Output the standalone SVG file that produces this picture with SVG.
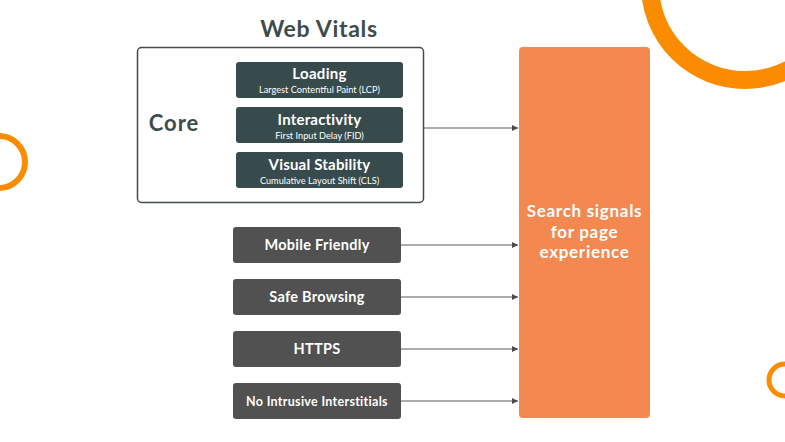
<svg xmlns="http://www.w3.org/2000/svg" width="785" height="442" viewBox="0 0 785 442">
<defs>
<style>
.t{font-family:Lato,"Open Sans","Liberation Sans",sans-serif;font-weight:700;fill:#fff;text-anchor:middle}
.s{font-family:Lato,"Open Sans","Liberation Sans",sans-serif;font-weight:400;fill:#fff;text-anchor:middle;font-size:9.2px}
.core{fill:#374b4c}
.sig{fill:#505150}
.ring{fill:none;stroke:#fb8c00}
.c{stroke:#5a5a5a;stroke-width:1.2;fill:none;marker-end:url(#ah)}
</style>
<marker id="ah" viewBox="0 0 8 8" refX="8" refY="4" markerWidth="6" markerHeight="6" markerUnits="userSpaceOnUse" orient="auto">
<path d="M0,0L8,4L0,8z" fill="#4a4a4a"/>
</marker>
</defs>
<rect width="785" height="442" fill="#fff"/>
<g id="decor">
<circle class="ring" cx="745" cy="-15" r="95" stroke-width="18"/>
<circle class="ring" cx="-1" cy="162" r="26" stroke-width="6"/>
<circle class="ring" cx="785" cy="380" r="16" stroke-width="5"/>
</g>
<g id="web-vitals">
<text x="319" y="37" class="t" style="fill:#3e4c4b;font-size:23px;letter-spacing:0.7px">Web Vitals</text>
<rect x="137.5" y="47.5" width="286" height="155" rx="4" fill="none" stroke="#444b4b" stroke-width="1.5"/>
<text x="174" y="131" class="t" style="fill:#3e4c4b;font-size:22px;letter-spacing:1px">Core</text>
</g>
<g id="loading">
<rect class="core" x="236" y="62" width="167" height="36" rx="3"/>
<text x="319.5" y="79" class="t" font-size="15" letter-spacing="0.3">Loading</text>
<text x="319.5" y="93" class="s">Largest Contentful Paint (LCP)</text>
</g>
<g id="interactivity">
<rect class="core" x="236" y="107" width="167" height="36" rx="3"/>
<text x="319.5" y="125" class="t" font-size="15" letter-spacing="0.2">Interactivity</text>
<text x="319.5" y="139" class="s">First Input Delay (FID)</text>
</g>
<g id="visual-stability">
<rect class="core" x="236" y="152" width="167" height="36" rx="3"/>
<text x="319.5" y="170" class="t" font-size="15" letter-spacing="0.2">Visual Stability</text>
<text x="319.5" y="184" class="s">Cumulative Layout Shift (CLS)</text>
</g>
<g id="mobile-friendly">
<rect class="sig" x="233" y="227" width="168" height="36" rx="3"/>
<text x="317" y="250" class="t" font-size="14.5" letter-spacing="0.3">Mobile Friendly</text>
</g>
<g id="safe-browsing">
<rect class="sig" x="233" y="279" width="168" height="36" rx="3"/>
<text x="317" y="302" class="t" font-size="14.5" letter-spacing="0.3">Safe Browsing</text>
</g>
<g id="https">
<rect class="sig" x="233" y="331" width="168" height="36" rx="3"/>
<text x="317" y="354" class="t" font-size="14.5" letter-spacing="0.3">HTTPS</text>
</g>
<g id="no-intrusive">
<rect class="sig" x="233" y="383" width="168" height="36" rx="3"/>
<text x="317" y="405.5" class="t" font-size="12.5" letter-spacing="0.3">No Intrusive Interstitials</text>
</g>
<g id="search-signals">
<rect x="519" y="47" width="131" height="371" rx="4" fill="#f38850"/>
<text x="584.5" y="217" class="t" font-size="17" letter-spacing="0.7">Search signals</text>
<text x="584.5" y="237.5" class="t" font-size="17" letter-spacing="0.7">for page</text>
<text x="584.5" y="258" class="t" font-size="17" letter-spacing="0.7">experience</text>
</g>
<g id="connectors">
<path class="c" d="M424,128H518"/>
<path class="c" d="M401,245H518"/>
<path class="c" d="M401,297H518"/>
<path class="c" d="M401,349H518"/>
<path class="c" d="M401,401H518"/>
</g>
</svg>
